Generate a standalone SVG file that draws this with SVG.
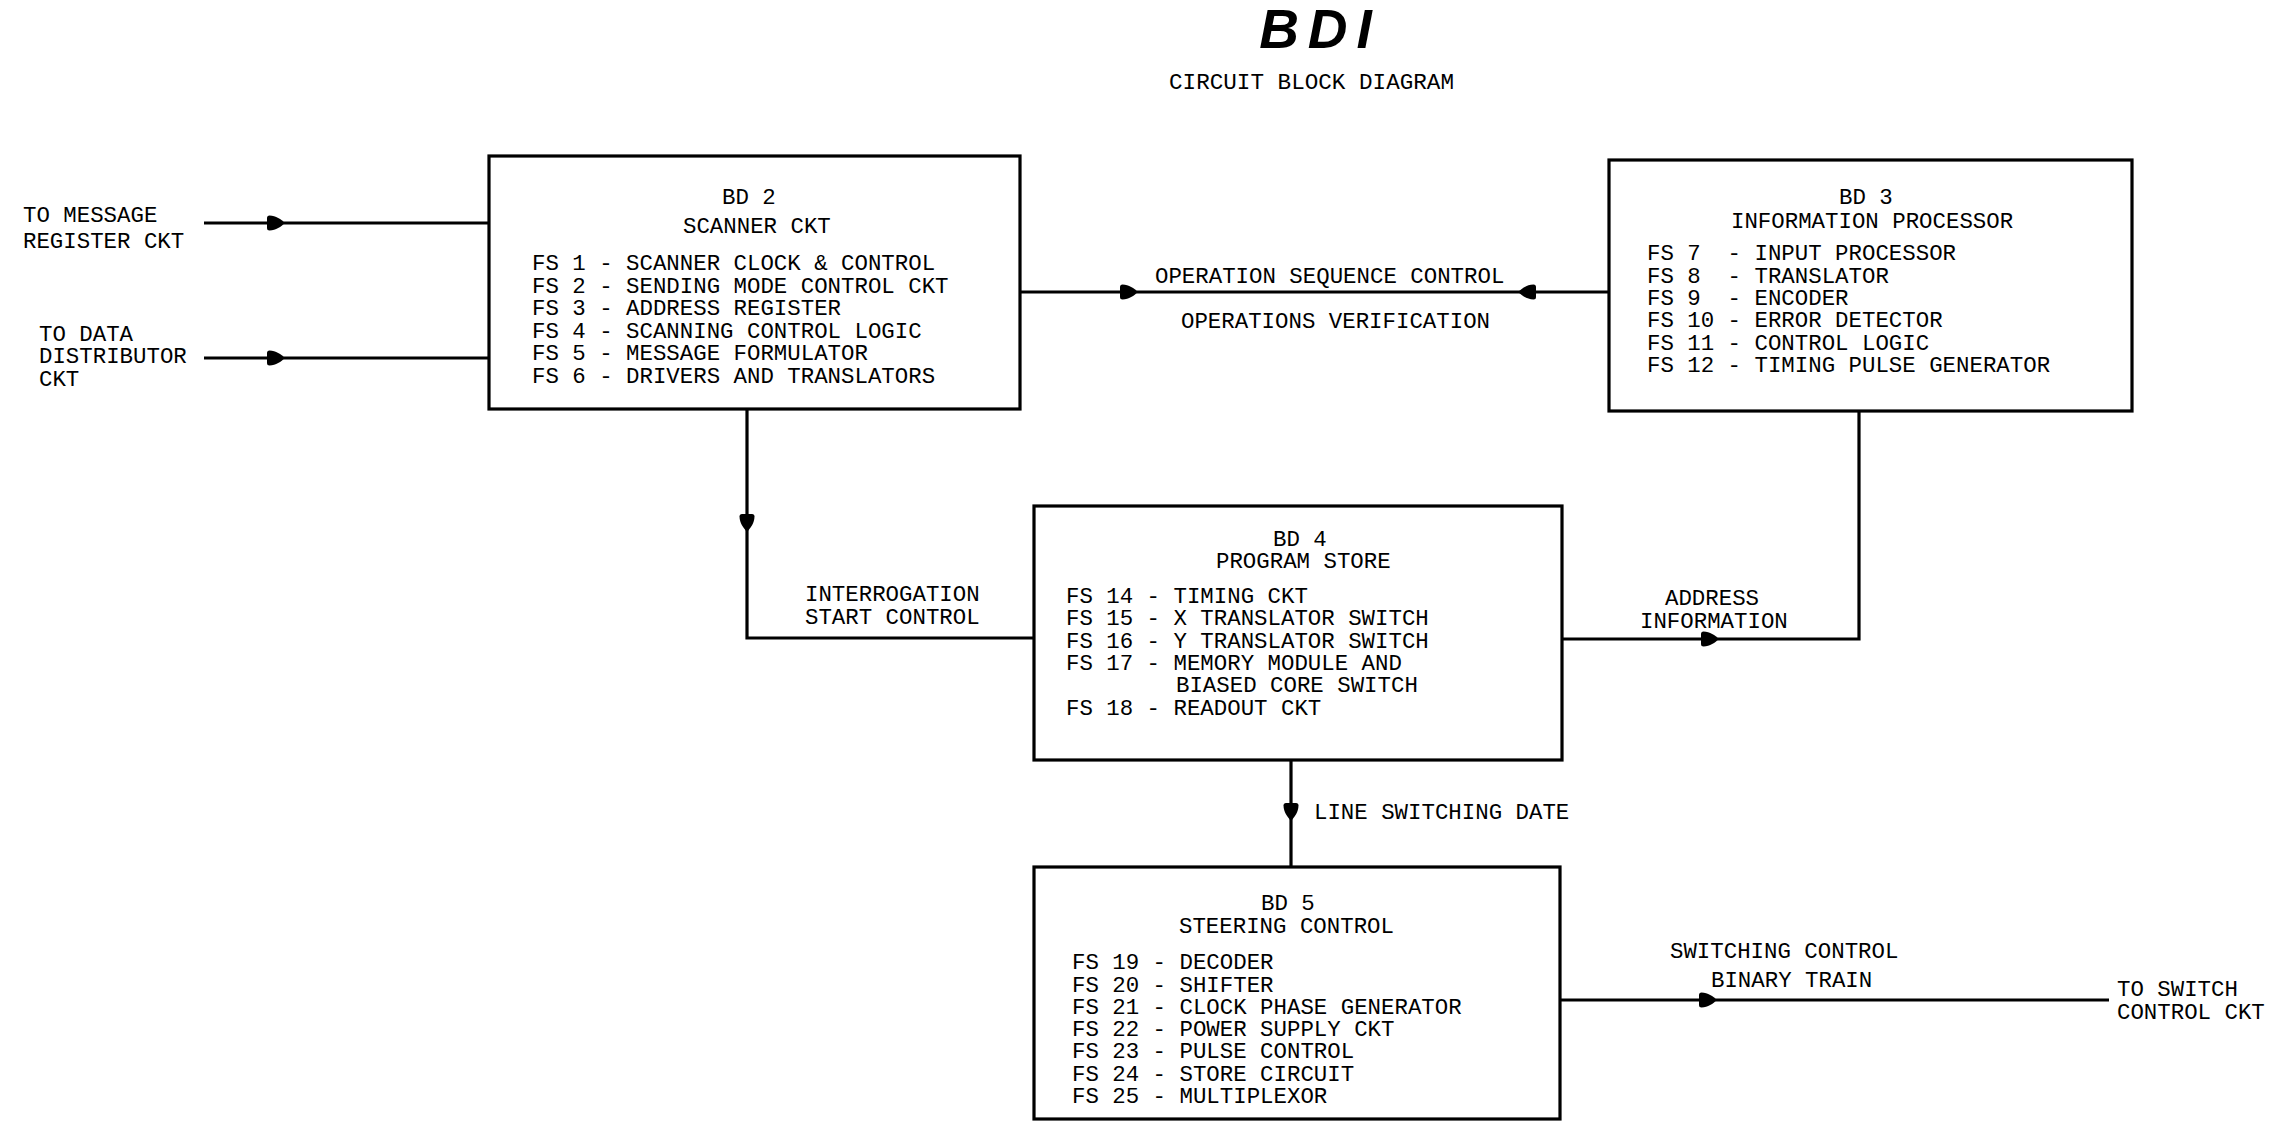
<svg xmlns="http://www.w3.org/2000/svg" xmlns:xlink="http://www.w3.org/1999/xlink" width="2277" height="1121" viewBox="0 0 2277 1121">
<style>
.t{font-family:"Liberation Mono","DejaVu Sans Mono",monospace;font-size:22.4px;fill:#000}
.box{fill:none;stroke:#000;stroke-width:3.2}
.ln{fill:none;stroke:#000;stroke-width:3.2}
.ah{fill:#000}
</style>
<defs>
<path id="ah" d="M0,0 C-4,-3.5 -9,-7.5 -15.5,-7.5 Q-18,-7.5 -18,-5 L-18,5 Q-18,7.5 -15.5,7.5 C-9,7.5 -4,3.5 0,0 Z"/>
</defs>
<rect width="2277" height="1121" fill="#fff"/>
<g id="title">
<text x="1320" y="48" text-anchor="middle" font-family="Liberation Sans,Arial,sans-serif" font-size="55" font-weight="bold" font-style="italic" letter-spacing="9">BDI</text>
<text x="1169" y="89" class="t" font-size="25" textLength="285" lengthAdjust="spacingAndGlyphs">CIRCUIT BLOCK DIAGRAM</text>
</g>
<g id="connectors">
<path class="ln" d="M204,223 H489"/>
<path class="ln" d="M204,358 H489"/>
<path class="ln" d="M1020,292 H1609"/>
<path class="ln" d="M747,409 V638 H1034" stroke-width="2.6"/>
<path class="ln" d="M1562,639 H1859 V411"/>
<path class="ln" d="M1291,760 V867"/>
<path class="ln" d="M1560,1000 H2109"/>
<use href="#ah" class="ah" transform="translate(285,223)"/>
<use href="#ah" class="ah" transform="translate(285,358)"/>
<use href="#ah" class="ah" transform="translate(1138,292)"/>
<use href="#ah" class="ah" transform="translate(1518,292) rotate(180)"/>
<use href="#ah" class="ah" transform="translate(747,532) rotate(90)"/>
<use href="#ah" class="ah" transform="translate(1719,639)"/>
<use href="#ah" class="ah" transform="translate(1291,821) rotate(90)"/>
<use href="#ah" class="ah" transform="translate(1717,1000)"/>
</g>
<g id="labels">
<text class="t" x="23" y="222">TO MESSAGE</text>
<text class="t" x="23" y="248">REGISTER CKT</text>
<text class="t" x="39" y="341">TO DATA</text>
<text class="t" x="39" y="363">DISTRIBUTOR</text>
<text class="t" x="39" y="386">CKT</text>
<text class="t" x="1155" y="283">OPERATION SEQUENCE CONTROL</text>
<text class="t" x="1181" y="328">OPERATIONS VERIFICATION</text>
<text class="t" x="805" y="601">INTERROGATION</text>
<text class="t" x="805" y="624">START CONTROL</text>
<text class="t" x="1665" y="605">ADDRESS</text>
<text class="t" x="1640" y="628">INFORMATION</text>
<text class="t" x="1314" y="819">LINE SWITCHING DATE</text>
<text class="t" x="1670" y="958">SWITCHING CONTROL</text>
<text class="t" x="1711" y="987">BINARY TRAIN</text>
<text class="t" x="2117" y="996">TO SWITCH</text>
<text class="t" x="2117" y="1019">CONTROL CKT</text>
</g>
<g id="bd2">
<rect class="box" x="489" y="156" width="531" height="253"/>
<text class="t" x="722" y="204">BD 2</text>
<text class="t" x="683" y="233">SCANNER CKT</text>
<text class="t" x="532" y="270">FS 1 - SCANNER CLOCK &amp; CONTROL</text>
<text class="t" x="532" y="292.5">FS 2 - SENDING MODE CONTROL CKT</text>
<text class="t" x="532" y="315">FS 3 - ADDRESS REGISTER</text>
<text class="t" x="532" y="337.5">FS 4 - SCANNING CONTROL LOGIC</text>
<text class="t" x="532" y="360">FS 5 - MESSAGE FORMULATOR</text>
<text class="t" x="532" y="382.5">FS 6 - DRIVERS AND TRANSLATORS</text>
</g>
<g id="bd3">
<rect class="box" x="1609" y="160" width="523" height="251"/>
<text class="t" x="1839" y="204">BD 3</text>
<text class="t" x="1731" y="228">INFORMATION PROCESSOR</text>
<text class="t" x="1647" y="260" xml:space="preserve">FS 7  - INPUT PROCESSOR</text>
<text class="t" x="1647" y="282.5" xml:space="preserve">FS 8  - TRANSLATOR</text>
<text class="t" x="1647" y="305" xml:space="preserve">FS 9  - ENCODER</text>
<text class="t" x="1647" y="327">FS 10 - ERROR DETECTOR</text>
<text class="t" x="1647" y="349.5">FS 11 - CONTROL LOGIC</text>
<text class="t" x="1647" y="372">FS 12 - TIMING PULSE GENERATOR</text>
</g>
<g id="bd4">
<rect class="box" x="1034" y="506" width="528" height="254"/>
<text class="t" x="1273" y="546">BD 4</text>
<text class="t" x="1216" y="568">PROGRAM STORE</text>
<text class="t" x="1066" y="603">FS 14 - TIMING CKT</text>
<text class="t" x="1066" y="625">FS 15 - X TRANSLATOR SWITCH</text>
<text class="t" x="1066" y="648">FS 16 - Y TRANSLATOR SWITCH</text>
<text class="t" x="1066" y="670">FS 17 - MEMORY MODULE AND</text>
<text class="t" x="1176" y="692">BIASED CORE SWITCH</text>
<text class="t" x="1066" y="715">FS 18 - READOUT CKT</text>
</g>
<g id="bd5">
<rect class="box" x="1034" y="867" width="526" height="252"/>
<text class="t" x="1261" y="910">BD 5</text>
<text class="t" x="1179" y="933">STEERING CONTROL</text>
<text class="t" x="1072" y="969">FS 19 - DECODER</text>
<text class="t" x="1072" y="991.5">FS 20 - SHIFTER</text>
<text class="t" x="1072" y="1014">FS 21 - CLOCK PHASE GENERATOR</text>
<text class="t" x="1072" y="1036">FS 22 - POWER SUPPLY CKT</text>
<text class="t" x="1072" y="1058">FS 23 - PULSE CONTROL</text>
<text class="t" x="1072" y="1080.5">FS 24 - STORE CIRCUIT</text>
<text class="t" x="1072" y="1103">FS 25 - MULTIPLEXOR</text>
</g>
</svg>
